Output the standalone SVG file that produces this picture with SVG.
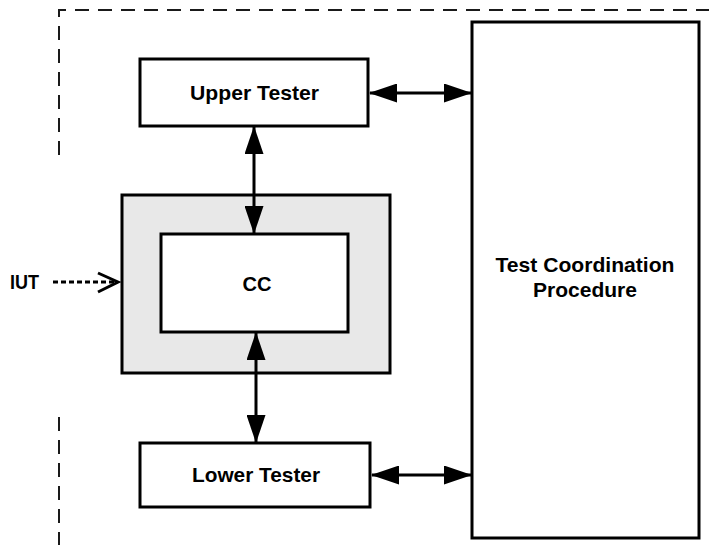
<svg xmlns="http://www.w3.org/2000/svg" width="709" height="553" viewBox="0 0 709 553">
  <style>
    .box { fill: #ffffff; stroke: #000000; stroke-width: 3; }
    .shade { fill: #e8e8e8; stroke: #000000; stroke-width: 3; }
    .lbl { font-family: "Liberation Sans", Arial, sans-serif; font-weight: bold; font-size: 21px; fill: #000000; }
    .link { stroke: #000000; stroke-width: 3; fill: none; }
    .frame { stroke: #1a1a1a; stroke-width: 2; fill: none; stroke-dasharray: 14 9; }
  </style>
  <defs>
    <marker id="head" viewBox="0 0 28 19" markerWidth="28" markerHeight="19" refX="27" refY="9.5" markerUnits="userSpaceOnUse" orient="auto-start-reverse">
      <path d="M0,0 L28,9.5 L0,19 z" fill="#000000"/>
    </marker>
  </defs>

  <!-- system boundary (dashed) -->
  <g id="boundary">
    <path class="frame" d="M59,155 V10 H709"/>
    <path class="frame" d="M59,417 V545"/>
  </g>

  <g id="upper-tester">
    <rect class="box" x="140" y="59" width="228" height="67"/>
    <text class="lbl" x="254.5" y="99.5" text-anchor="middle" textLength="129" lengthAdjust="spacingAndGlyphs">Upper Tester</text>
  </g>

  <g id="iut">
    <rect class="shade" x="122" y="195" width="268" height="178"/>
  </g>

  <g id="cc">
    <rect class="box" x="161" y="234" width="187" height="98"/>
    <text class="lbl" x="257" y="290.5" text-anchor="middle" textLength="29" lengthAdjust="spacingAndGlyphs">CC</text>
  </g>

  <g id="lower-tester">
    <rect class="box" x="140" y="443" width="230" height="64"/>
    <text class="lbl" x="256" y="482" text-anchor="middle" textLength="128" lengthAdjust="spacingAndGlyphs">Lower Tester</text>
  </g>

  <g id="tcp">
    <rect class="box" x="472" y="22" width="227" height="516"/>
    <text class="lbl" x="585" y="272" text-anchor="middle" textLength="179" lengthAdjust="spacingAndGlyphs">Test Coordination</text>
    <text class="lbl" x="585" y="297" text-anchor="middle" textLength="104" lengthAdjust="spacingAndGlyphs">Procedure</text>
  </g>

  <g id="iut-label">
    <text class="lbl" x="10" y="288.5" textLength="29" lengthAdjust="spacingAndGlyphs">IUT</text>
  </g>

  <g id="connectors">
    <line class="link" x1="370" y1="93" x2="471" y2="93" marker-start="url(#head)" marker-end="url(#head)"/>
    <line class="link" x1="372" y1="475" x2="471" y2="475" marker-start="url(#head)" marker-end="url(#head)"/>
    <line class="link" x1="254" y1="127" x2="254" y2="233" marker-start="url(#head)" marker-end="url(#head)"/>
    <line class="link" x1="256" y1="333" x2="256" y2="442" marker-start="url(#head)" marker-end="url(#head)"/>
    <!-- dotted pointer from the IUT label to the shaded block -->
    <line x1="53" y1="282" x2="116" y2="282" stroke="#000000" stroke-width="3" stroke-dasharray="5 3"/>
    <polyline points="98,273 118,282 98,292" fill="none" stroke="#000000" stroke-width="3"/>
  </g>
</svg>
